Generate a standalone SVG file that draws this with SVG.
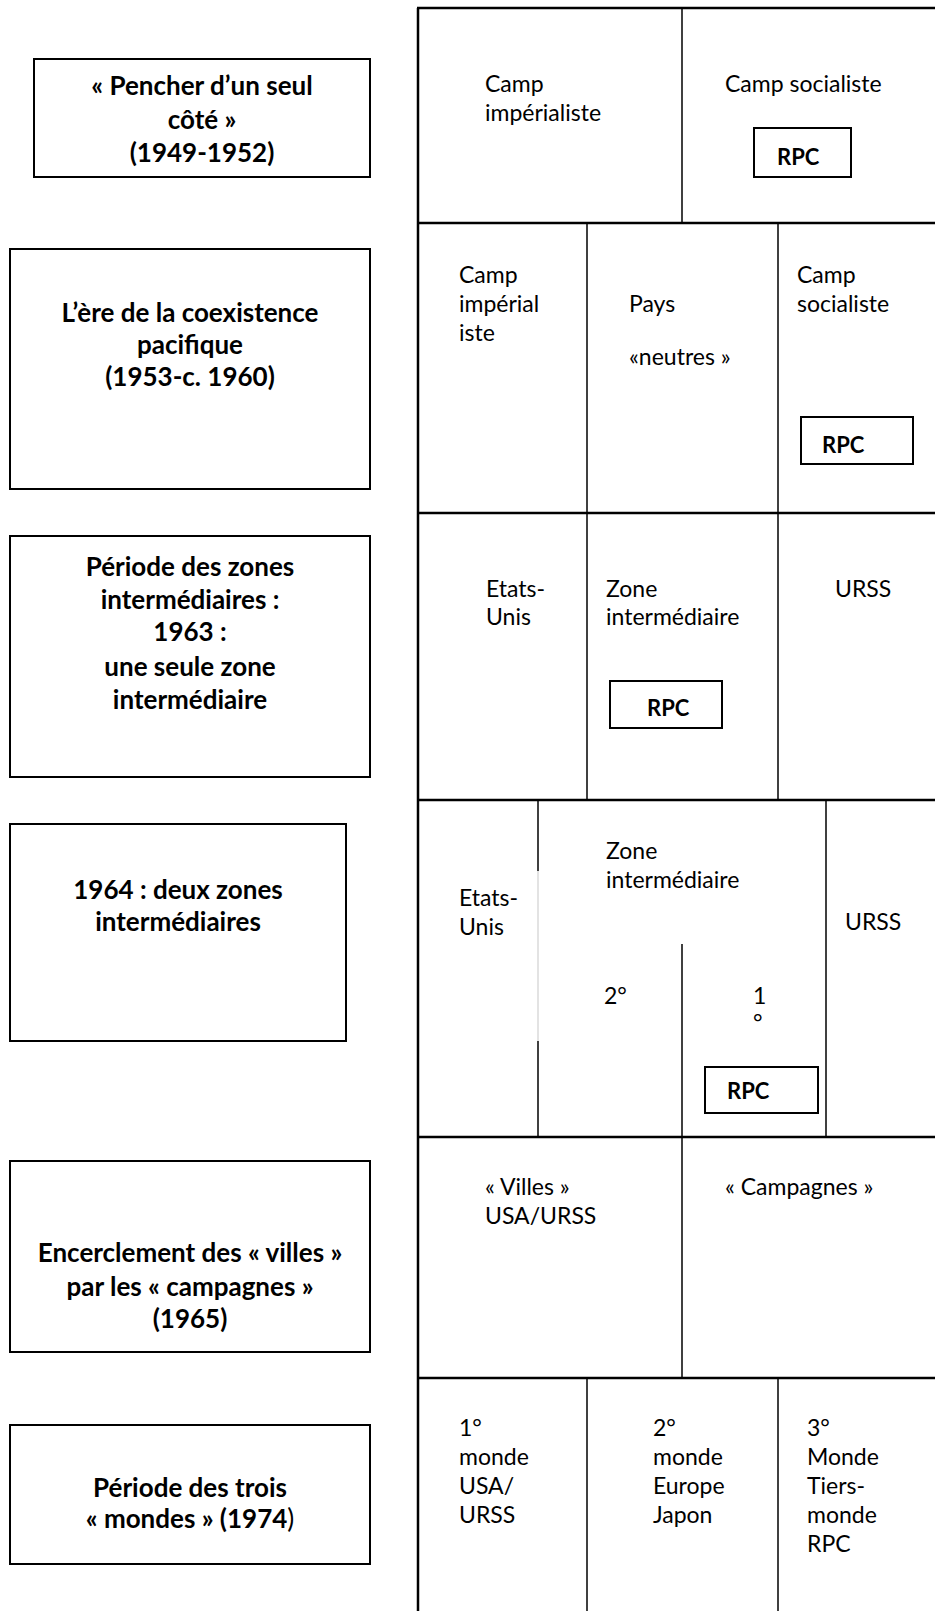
<svg xmlns="http://www.w3.org/2000/svg" width="935" height="1611" viewBox="0 0 935 1611">
<style>
.box{fill:#fff;stroke:#000;stroke-width:2}
.thick{stroke:#000;stroke-width:2.5;fill:none}
.thin{stroke:#000;stroke-width:1.5;fill:none}
.gray{stroke:#d0d0d0;stroke-width:1.2;fill:none}
.h{font-family:Lato,"Liberation Sans",sans-serif;font-size:26px;font-weight:bold;text-anchor:middle;fill:#000}
.t{font-family:Lato,"Liberation Sans",sans-serif;font-size:23px;fill:#000}
.r{font-family:Lato,"Liberation Sans",sans-serif;font-size:22px;font-weight:bold;fill:#000}
</style>
<rect width="935" height="1611" fill="#fff"/>

<g id="label-1">
<rect class="box" x="34" y="59" width="336" height="118"/>
<text class="h" x="202" y="95">« Pencher d’un seul</text>
<text class="h" x="202" y="129">côté »</text>
<text class="h" x="202" y="162">(1949-1952)</text>
</g>
<g id="label-2">
<rect class="box" x="10" y="249" width="360" height="240"/>
<text class="h" x="190" y="322">L’ère de la coexistence</text>
<text class="h" x="190" y="354">pacifique</text>
<text class="h" x="190" y="386">(1953-c. 1960)</text>
</g>
<g id="label-3">
<rect class="box" x="10" y="536" width="360" height="241"/>
<text class="h" x="190" y="576">Période des zones</text>
<text class="h" x="190" y="609">intermédiaires :</text>
<text class="h" x="190" y="641">1963 :</text>
<text class="h" x="190" y="676">une seule zone</text>
<text class="h" x="190" y="709">intermédiaire</text>
</g>
<g id="label-4">
<rect class="box" x="10" y="824" width="336" height="217"/>
<text class="h" x="178" y="899">1964 : deux zones</text>
<text class="h" x="178" y="931">intermédiaires</text>
</g>
<g id="label-5">
<rect class="box" x="10" y="1161" width="360" height="191"/>
<text class="h" x="190" y="1262">Encerclement des « villes »</text>
<text class="h" x="190" y="1296">par les « campagnes »</text>
<text class="h" x="190" y="1328">(1965)</text>
</g>
<g id="label-6">
<rect class="box" x="10" y="1425" width="360" height="139"/>
<text class="h" x="190" y="1497">Période des trois</text>
<text class="h" x="190" y="1528">« mondes » (1974<tspan font-weight="normal">)</tspan></text>
</g>

<g id="table-lines">
<line class="thick" x1="418" y1="8" x2="418" y2="1611"/>
<line class="thick" x1="417" y1="8" x2="935" y2="8"/>
<line class="thick" x1="417" y1="223" x2="935" y2="223"/>
<line class="thick" x1="417" y1="513" x2="935" y2="513"/>
<line class="thick" x1="417" y1="800" x2="935" y2="800"/>
<line class="thick" x1="417" y1="1137" x2="935" y2="1137"/>
<line class="thick" x1="417" y1="1378" x2="935" y2="1378"/>
<line class="thin" x1="682" y1="8" x2="682" y2="223"/>
<line class="thin" x1="587" y1="223" x2="587" y2="800"/>
<line class="thin" x1="778" y1="223" x2="778" y2="800"/>
<line class="thin" x1="538" y1="800" x2="538" y2="871"/>
<line class="gray" x1="538" y1="871" x2="538" y2="1041"/>
<line class="thin" x1="538" y1="1041" x2="538" y2="1137"/>
<line class="thin" x1="826" y1="800" x2="826" y2="1137"/>
<line class="thin" x1="682" y1="944" x2="682" y2="1378"/>
<line class="thin" x1="587" y1="1378" x2="587" y2="1611"/>
<line class="thin" x1="778" y1="1378" x2="778" y2="1611"/>
</g>

<g id="row-1">
<text class="t" x="485" y="92">Camp</text>
<text class="t" x="485" y="121">impérialiste</text>
<text class="t" x="725" y="92">Camp socialiste</text>
<g id="rpc-1">
<rect class="box" x="754" y="128" width="97" height="49"/>
<text class="r" x="777" y="165">RPC</text>
</g>
</g>

<g id="row-2">
<text class="t" x="459" y="283">Camp</text>
<text class="t" x="459" y="312">impérial</text>
<text class="t" x="459" y="341">iste</text>
<text class="t" x="629" y="312">Pays</text>
<text class="t" x="629" y="365">«neutres »</text>
<text class="t" x="797" y="283">Camp</text>
<text class="t" x="797" y="312">socialiste</text>
<g id="rpc-2">
<rect class="box" x="801" y="417" width="112" height="47"/>
<text class="r" x="822" y="453">RPC</text>
</g>
</g>

<g id="row-3">
<text class="t" x="486" y="597">Etats-</text>
<text class="t" x="486" y="625">Unis</text>
<text class="t" x="606" y="597">Zone</text>
<text class="t" x="606" y="625">intermédiaire</text>
<text class="t" x="835" y="597">URSS</text>
<g id="rpc-3">
<rect class="box" x="610" y="681" width="112" height="47"/>
<text class="r" x="647" y="716">RPC</text>
</g>
</g>

<g id="row-4">
<text class="t" x="606" y="859">Zone</text>
<text class="t" x="606" y="888">intermédiaire</text>
<text class="t" x="459" y="906">Etats-</text>
<text class="t" x="459" y="935">Unis</text>
<text class="t" x="845" y="930">URSS</text>
<text class="t" x="604" y="1004">2°</text>
<text class="t" x="753" y="1004">1</text>
<text class="t" x="753" y="1031">°</text>
<g id="rpc-4">
<rect class="box" x="705" y="1067" width="113" height="46"/>
<text class="r" x="727" y="1099">RPC</text>
</g>
</g>

<g id="row-5">
<text class="t" x="485" y="1195">« Villes »</text>
<text class="t" x="485" y="1224">USA/URSS</text>
<text class="t" x="725" y="1195">« Campagnes »</text>
</g>

<g id="row-6">
<text class="t" x="459" y="1436">1°</text>
<text class="t" x="459" y="1465">monde</text>
<text class="t" x="459" y="1494">USA/</text>
<text class="t" x="459" y="1523">URSS</text>
<text class="t" x="653" y="1436">2°</text>
<text class="t" x="653" y="1465">monde</text>
<text class="t" x="653" y="1494">Europe</text>
<text class="t" x="653" y="1523">Japon</text>
<text class="t" x="807" y="1436">3°</text>
<text class="t" x="807" y="1465">Monde</text>
<text class="t" x="807" y="1494">Tiers-</text>
<text class="t" x="807" y="1523">monde</text>
<text class="t" x="807" y="1552">RPC</text>
</g>
</svg>
